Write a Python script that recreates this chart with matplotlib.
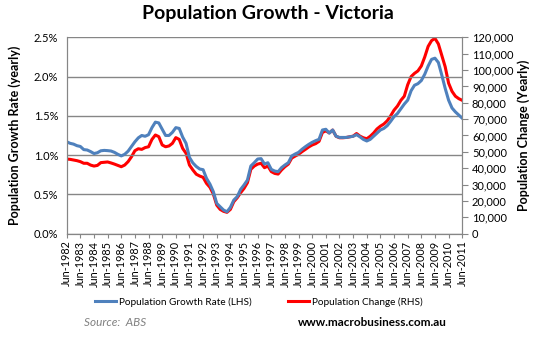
import matplotlib
matplotlib.use("Agg")
import matplotlib.pyplot as plt
import numpy as np
from matplotlib.ticker import FuncFormatter, MultipleLocator

plt.rcParams['font.family'] = ['Lato', 'DejaVu Sans']

# quarterly data, Jun-1982 .. Jun-2011
start_year = 1982.0
growth_rate = [
    1.17, 1.15, 1.14, 1.12, 1.11, 1.07, 1.065, 1.045,  # 1982-83
    1.02, 1.03, 1.055, 1.06, 1.057, 1.052, 1.035, 1.01,  # 1984-85
    0.99, 1.01, 1.05, 1.11, 1.17, 1.22, 1.25, 1.24,  # 1986-87
    1.26, 1.35, 1.42, 1.41, 1.33, 1.25, 1.25, 1.29,  # 1988-89
    1.35, 1.34, 1.23, 1.15, 0.97, 0.90, 0.855, 0.823,  # 1990-91
    0.814, 0.704, 0.631, 0.534, 0.385, 0.342, 0.30, 0.278,  # 1992-93
    0.334, 0.427, 0.47, 0.563, 0.619, 0.682, 0.861, 0.903,  # 1994-95
    0.95, 0.955, 0.886, 0.903, 0.818, 0.797, 0.789, 0.84,  # 1996-97
    0.874, 0.903, 0.989, 1.014, 1.035, 1.074, 1.107, 1.137,  # 1998-99
    1.163, 1.184, 1.201, 1.32, 1.329, 1.28, 1.32, 1.24,  # 2000-01
    1.225, 1.225, 1.225, 1.233, 1.24, 1.26, 1.233, 1.20,  # 2002-03
    1.18, 1.20, 1.24, 1.28, 1.32, 1.34, 1.375, 1.43,  # 2004-05
    1.49, 1.53, 1.59, 1.65, 1.70, 1.82, 1.89, 1.91,  # 2006-07
    1.95, 2.03, 2.135, 2.22, 2.235, 2.18, 2.02, 1.85,  # 2008-09
    1.70, 1.60, 1.55, 1.51, 1.47,  # 2010-11
]
pop_change = [
    45600, 45400, 45000, 44600, 44000, 43000, 43000, 41900,
    41300, 41700, 43400, 43600, 43800, 43200, 42500, 41700,
    40900, 41900, 44000, 47000, 50700, 51900, 51500, 52600,
    53100, 57600, 60300, 59300, 54200, 53100, 53600, 55200,
    58700, 57600, 52100, 49100, 41900, 38900, 36300, 35200,
    34400, 30700, 28300, 24200, 17400, 14800, 13600, 13000,
    14800, 19500, 21900, 25000, 27600, 31100, 39300, 41300,
    42500, 43000, 40300, 41300, 37900, 36800, 36400, 38900,
    40900, 42500, 46200, 47400, 48500, 50100, 51500, 53000,
    54200, 55000, 56400, 61900, 62800, 61600, 63300, 59500,
    58600, 58600, 58800, 59200, 59600, 61200, 59600, 58600,
    58000, 59500, 61500, 64000, 65700, 67000, 69000, 72000,
    75500, 78000, 81500, 84000, 91000, 96000, 98000, 99500,
    102500, 108000, 114500, 118000, 119400, 116000, 109000, 102000,
    92000, 87000, 84000, 82500, 81500,
]
tick_years = list(range(1982, 2012))
tick_labels = [f"Jun-{y}" for y in tick_years]

t = start_year + 0.25 * np.arange(len(growth_rate))

blue = '#4F81BD'
red = '#FF0000'
grey = '#868686'

fig = plt.figure(figsize=(5.35, 3.43), dpi=100)
ax = fig.add_axes([0.1247, 0.319, 0.864 - 0.1247, 0.891 - 0.319])
ax2 = ax.twinx()

l1, = ax.plot(t, growth_rate, color=blue, lw=2.2, label='Population Growth Rate (LHS)')
l2, = ax2.plot(t, pop_change, color=red, lw=2.2, label='Population Change (RHS)')
ax.set_zorder(ax2.get_zorder() + 1)
ax.patch.set_visible(False)

ax.set_xlim(1982, 2011)
ax.set_ylim(0, 2.5)
ax2.set_ylim(0, 120000)
ax.yaxis.set_major_locator(MultipleLocator(0.5))
ax.yaxis.set_major_formatter(FuncFormatter(lambda v, p: f"{v:.1f}%"))
ax2.yaxis.set_major_locator(MultipleLocator(10000))
ax2.yaxis.set_major_formatter(FuncFormatter(lambda v, p: f"{int(v):,}"))
ax.set_xticks(tick_years)
ax.set_xticklabels(tick_labels, rotation=90, fontsize=7.8)

ax.grid(axis='y', color=grey, lw=1.0)
ax.set_axisbelow(True)
for a in (ax, ax2):
    a.spines['top'].set_visible(False)
    for s in ('left', 'right', 'bottom'):
        a.spines[s].set_color(grey)
ax.tick_params(axis='y', length=0, labelsize=8, pad=6)
ax.tick_params(axis='x', length=3, color=grey, pad=2)
ax2.tick_params(axis='y', length=4, color=grey, labelsize=8, pad=3)

ax.set_ylabel('Population Growth Rate (yearly)', fontsize=9, fontweight='bold', labelpad=9)
ax2.set_ylabel('Population Change (Yearly)', fontsize=9, fontweight='bold', labelpad=3)

fig.suptitle('Population Growth - Victoria', fontsize=14, fontweight='bold', y=0.985)

fig.legend(handles=[l1, l2], loc='center', bbox_to_anchor=(0.484, 0.12), ncol=2,
           frameon=False, fontsize=7.2, handlelength=2.1, columnspacing=3.6, handletextpad=0.3)
fig.text(0.157, 0.06, 'Source:  ABS', fontsize=8.5, style='italic', color='#808080', ha='left', va='center')
fig.text(0.557, 0.06, 'www.macrobusiness.com.au', fontsize=8.5, fontweight='bold', ha='left', va='center')

fig.savefig('out.png', dpi=100)
